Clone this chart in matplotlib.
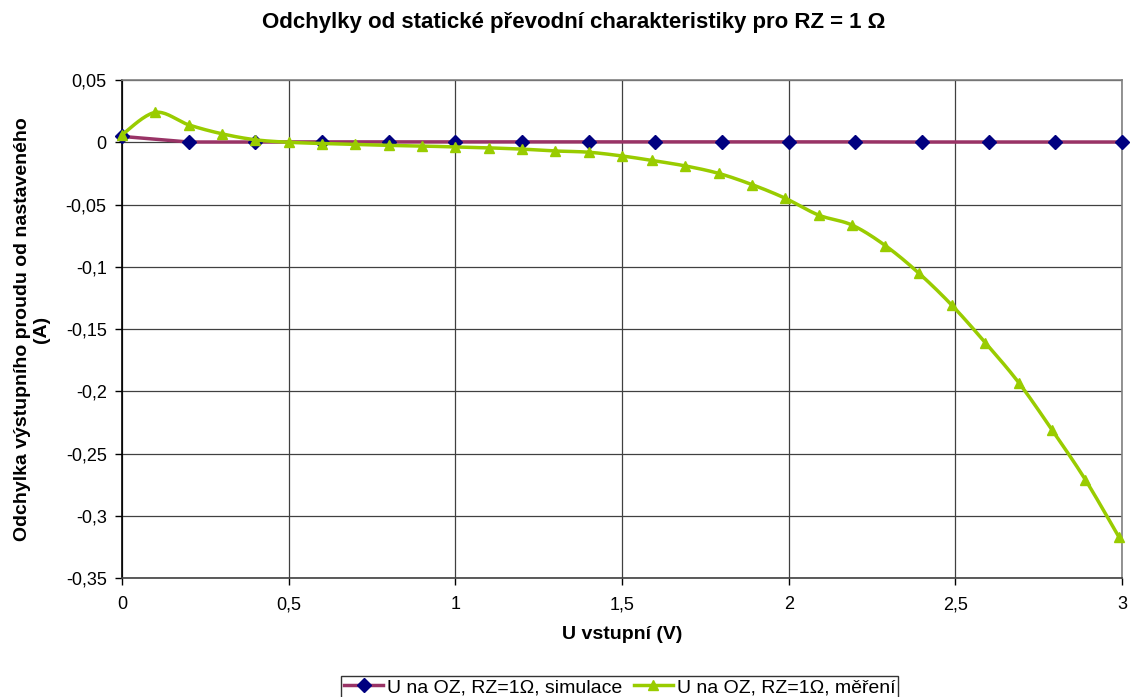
import numpy as np
import matplotlib
matplotlib.use("Agg")
import matplotlib.pyplot as plt
from matplotlib.ticker import FuncFormatter, MultipleLocator
from matplotlib.lines import Line2D

plt.rcParams['font.family'] = ['Liberation Sans', 'DejaVu Sans']

# Data
sim_x = [0.0, 0.2, 0.4, 0.6, 0.8, 1.0, 1.2, 1.4, 1.6, 1.8, 2.0, 2.2, 2.4, 2.6, 2.8, 3.0]
sim_y = [0.0047, 0.0002, 0.0002, 0.0003, 0.0003, 0.0003, 0.0003, 0.0003, 0.0003,
         0.0003, 0.0003, 0.0003, 0.0002, 0.0002, 0.0002, 0.0002]

meas_x = [0.0, 0.1, 0.2, 0.3, 0.4, 0.5, 0.6, 0.7, 0.8, 0.9, 1.0, 1.1, 1.2, 1.3, 1.4,
          1.5, 1.59, 1.69, 1.79, 1.89, 1.99, 2.09, 2.19, 2.29, 2.39, 2.49, 2.59,
          2.69, 2.79, 2.89, 2.99]
meas_y = [0.006, 0.024, 0.014, 0.0068, 0.002, 0.0, -0.001, -0.0017, -0.0025, -0.003,
          -0.0038, -0.0045, -0.0055, -0.007, -0.008, -0.011, -0.0146, -0.019, -0.025,
          -0.034, -0.045, -0.0585, -0.0665, -0.083, -0.105, -0.131, -0.161, -0.193,
          -0.231, -0.271, -0.3167]

title = "Odchylky od statické převodní charakteristiky pro RZ = 1 Ω"
xlabel = "U vstupní (V)"
ylabel = "Odchylka výstupního proudu od nastaveného\n(A)"
label_sim = "U na OZ, RZ=1Ω, simulace"
label_meas = "U na OZ, RZ=1Ω, měření"


def smooth(x, y, n=20):
    x = np.asarray(x, float)
    y = np.asarray(y, float)
    px, py = [], []
    for i in range(len(x) - 1):
        x0, y0 = (x[i - 1], y[i - 1]) if i > 0 else (x[i], y[i])
        x3, y3 = (x[i + 2], y[i + 2]) if i + 2 < len(x) else (x[i + 1], y[i + 1])
        x1, y1, x2, y2 = x[i], y[i], x[i + 1], y[i + 1]
        c1x = x1 + (x2 - x0) / 6.0
        c1y = y1 + (y2 - y0) / 6.0
        c2x = x2 - (x3 - x1) / 6.0
        c2y = y2 - (y3 - y1) / 6.0
        t = np.linspace(0, 1, n, endpoint=(i == len(x) - 2))
        b0 = (1 - t) ** 3
        b1 = 3 * (1 - t) ** 2 * t
        b2 = 3 * (1 - t) * t ** 2
        b3 = t ** 3
        px.append(b0 * x1 + b1 * c1x + b2 * c2x + b3 * x2)
        py.append(b0 * y1 + b1 * c1y + b2 * c2y + b3 * y2)
    return np.concatenate(px), np.concatenate(py)


fig = plt.figure(figsize=(11.37, 6.97), dpi=100)
ax = fig.add_axes([0.1073, 0.1707, 0.8795, 0.7145])

purple = '#993366'
navy = '#000080'
green = '#99CC00'

ax.plot(sim_x, sim_y, color=purple, lw=2.5, zorder=3, clip_on=False)
ax.plot(sim_x, sim_y, linestyle='none', marker='D', color=navy, markersize=7, zorder=4, clip_on=False)

mx, my = smooth(meas_x, meas_y)
ax.plot(mx, my, color=green, lw=2.5, zorder=5, clip_on=False)
ax.plot(meas_x, meas_y, linestyle='none', marker='^', color=green, markersize=7.5, zorder=6, clip_on=False)

ax.set_xlim(0, 3)
ax.set_ylim(-0.35, 0.05)
ax.xaxis.set_major_locator(MultipleLocator(0.5))
ax.yaxis.set_major_locator(MultipleLocator(0.05))

fmt = FuncFormatter(lambda v, p: ('%g' % round(v, 4)).replace('.', ',') if abs(v) > 1e-9 else '0')
ax.xaxis.set_major_formatter(fmt)
ax.yaxis.set_major_formatter(fmt)

ax.grid(True, color='#404040', lw=0.9, zorder=1)
ax.set_axisbelow(True)
for s in ['top', 'right']:
    ax.spines[s].set_color('#808080')
    ax.spines[s].set_linewidth(1.2)
ax.spines['left'].set_color('black')
ax.spines['left'].set_linewidth(1.2)
ax.spines['bottom'].set_color('#404040')
ax.spines['bottom'].set_linewidth(1.2)

ax.tick_params(axis='both', direction='out', length=5, width=1, labelsize=13, colors='black', pad=6)
ax.tick_params(axis='x', pad=8)

fig.text(0.505, 0.968, title, fontsize=16, fontweight='bold', ha='center', va='center')
ax.set_xlabel(xlabel, fontsize=14, fontweight='bold', labelpad=9)
ax.set_ylabel(ylabel, fontsize=14, fontweight='bold', labelpad=11)

handles = [
    Line2D([0], [0], color=purple, lw=2.5, marker='D', markerfacecolor=navy, markeredgecolor=navy, markersize=7),
    Line2D([0], [0], color=green, lw=2.5, marker='^', markerfacecolor=green, markeredgecolor=green, markersize=7.5),
]
leg = fig.legend(handles, [label_sim, label_meas], loc='lower center', bbox_to_anchor=(0.545, -0.003),
                 ncol=2, fontsize=14, frameon=True, fancybox=False, edgecolor='black',
                 handlelength=2.0, handletextpad=0.2, columnspacing=0.6, borderpad=0.15, borderaxespad=0)
leg.get_frame().set_linewidth(1.0)

fig.savefig('out.png', dpi=100)
